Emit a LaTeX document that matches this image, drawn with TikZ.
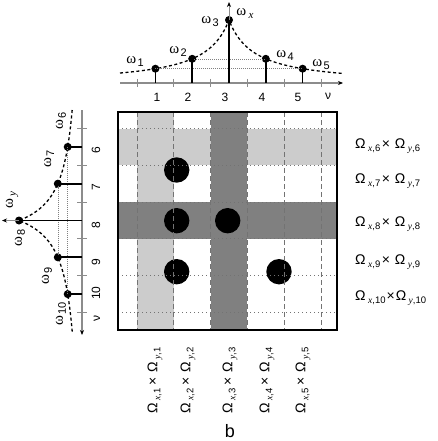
\documentclass[tikz,border=0pt]{standalone}
\usepackage{fontspec}
\setmainfont{Liberation Sans}
\newfontfamily\serifgr{Liberation Serif}
\usetikzlibrary{arrows.meta}
\definecolor{lightc}{gray}{0.80}
\definecolor{darkc}{gray}{0.50}
\definecolor{axisc}{gray}{0.55}
\definecolor{gridc}{gray}{0.45}
\newcommand\myom[1]{{\serifgr\fontsize{15}{15}\selectfont ω}\kern1.5pt\raisebox{-3pt}{\fontsize{11}{11}\selectfont #1}}
\newcommand\myomv[1]{{\serifgr\fontsize{15}{15}\selectfont ω}\kern2.5pt\raisebox{-3pt}{\serifgr\itshape\fontsize{11}{11}\selectfont #1}}
\newcommand\myOm[2]{Ω\kern2.5pt\raisebox{-3pt}{\fontsize{9.5}{9.5}\selectfont{\serifgr\itshape #1},#2}}
\begin{document}
\begin{tikzpicture}[x=1pt,y=-1pt,
  declare function={hh(\d)=63/(1+1.5*\d/36.8+0.1*(\d/36.8)^2);},
  axis/.style={draw=axisc, line width=1.2pt},
  tickm/.style={draw=axisc, line width=1pt},
  stem/.style={line width=1.7pt},
  pt/.style={circle, fill=black, inner sep=0pt, minimum size=8pt},
  bigdot/.style={circle, fill=black, inner sep=0pt, minimum size=25.4pt},
  guide/.style={draw=gray, line width=0.5pt, dash pattern=on 1pt off 1pt},
  curve/.style={line width=1.3pt, dash pattern=on 3pt off 2.5pt},
  vgrid/.style={draw=gridc, line width=0.9pt, dash pattern=on 5pt off 3pt},
  hgrid/.style={draw=gridc, line width=0.9pt, dash pattern=on 1pt off 3pt},
  num/.style={inner sep=0pt, font=\fontsize{12}{12}\selectfont},
  wl/.style={inner sep=0pt},
  rl/.style={inner sep=0pt, anchor=west, font=\fontsize{14}{14}\selectfont},
  bl/.style={inner sep=0pt, anchor=west, rotate=90, font=\fontsize{14}{14}\selectfont},
  tip/.style={-{Stealth[length=5pt,width=4pt,color=black]}}]
\useasboundingbox (0,0) rectangle (438,441);

% ---------- top axis ----------
\coordinate (tl) at (120,83);
\coordinate (tr) at (343,83);
\coordinate (wtop) at (229,2);
\draw[axis,tip] (tl) -- (tr);
\foreach \k in {0,...,5} {
  \coordinate (tt\k) at ({137+36.8*\k},79);
  \coordinate (tb\k) at ({137+36.8*\k},87);
  \draw[tickm] (tt\k) -- (tb\k);
}
\draw[curve] plot[domain=120:229,samples=60] (\x,{83-hh(abs(\x-229))})
  -- plot[domain=229:342,samples=60] (\x,{83-hh(abs(\x-229))});
\node[pt] (w1) at (155.4,68.7) {};
\node[pt] (w2) at (192.2,58.8) {};
\node[pt] (w3) at (229,20) {};
\node[pt] (w4) at (265.8,58.8) {};
\node[pt] (w5) at (302.6,68.7) {};
\foreach \i/\x in {1/155.4,2/192.2,3/229,4/265.8,5/302.6} \coordinate (b\i) at (\x,83);
\draw[guide] (w2.center) -- (w4.center);
\draw[guide] (w1.center) -- (w5.center);
\draw[axis,line width=1pt,tip] (b3) -- (wtop);
\foreach \i in {1,...,5} \draw[stem] (b\i) -- (w\i.center);
\node[num] (n1) at (157,97) {1};
\node[num] (n2) at (188,97) {2};
\node[num] (n3) at (225,97) {3};
\node[num] (n4) at (262,97) {4};
\node[num] (n5) at (298,97) {5};
\node[num] (nu1) at (328,96) {ν};
\node[wl] (lw1) at (135,61) {\myom{1}};
\node[wl] (lw2) at (178,51) {\myom{2}};
\node[wl] (lw3) at (210,22) {\myom{3}};
\node[wl] (lwx) at (245,13) {\myomv{x}};
\node[wl] (lw4) at (285,55) {\myom{4}};
\node[wl] (lw5) at (321,65) {\myom{5}};

% ---------- left axis ----------
\coordinate (lt) at (82,110);
\coordinate (lb) at (82,335);
\coordinate (wleft) at (2,220.5);
\draw[axis,tip] (lt) -- (lb);
\foreach \k in {0,...,5} {
  \coordinate (ll\k) at (77,{128.5+36.8*\k});
  \coordinate (lr\k) at (87,{128.5+36.8*\k});
  \draw[tickm] (ll\k) -- (lr\k);
}
\draw[curve] plot[domain=110:220.5,samples=60] ({82-hh(abs(\x-220.5))},\x)
  -- plot[domain=220.5:333,samples=60] ({82-hh(abs(\x-220.5))},\x);
\node[pt] (w6) at (67.7,146.9) {};
\node[pt] (w7) at (57.8,183.7) {};
\node[pt] (w8) at (19,220.5) {};
\node[pt] (w9) at (57.8,257.3) {};
\node[pt] (w10) at (67.7,294.1) {};
\foreach \i/\y in {6/146.9,7/183.7,8/220.5,9/257.3,10/294.1} \coordinate (c\i) at (82,\y);
\draw[guide] (w7.center) -- (w9.center);
\draw[guide] (w6.center) -- (w10.center);
\draw[axis,line width=1pt,tip] (c8) -- (wleft);
\foreach \i in {6,...,10} \draw[stem] (c\i) -- (w\i.center);
\node[num,rotate=90] (n6) at (96,150) {6};
\node[num,rotate=90] (n7) at (96,187) {7};
\node[num,rotate=90] (n8) at (96,225) {8};
\node[num,rotate=90] (n9) at (96,262) {9};
\node[num,rotate=90] (n10) at (96,293) {10};
\node[num,rotate=90] (nu2) at (97,318) {ν};
\node[wl,rotate=90] (lw6) at (61,121) {\myom{6}};
\node[wl,rotate=90] (lw7) at (49,159) {\myom{7}};
\node[wl,rotate=90] (lwy) at (12,200) {\myomv{y}};
\node[wl,rotate=90] (lw8) at (20,238) {\myom{8}};
\node[wl,rotate=90] (lw9) at (47,276) {\myom{9}};
\node[wl,rotate=90] (lw10) at (61,314) {\myom{10}};

% ---------- main square ----------
\fill[lightc] (118,128.5) rectangle (337,165.3);
\fill[lightc] (137,112) rectangle (173.8,330);
\fill[darkc] (210.6,112) rectangle (247.4,330);
\fill[darkc] (118,202.1) rectangle (337,238.9);
\node[bigdot] (d1) at (176.7,170) {};
\node[bigdot] (d2) at (176.7,220.7) {};
\node[bigdot] (d3) at (227.7,220.7) {};
\node[bigdot] (d4) at (176.7,271.7) {};
\node[bigdot] (d5) at (279,271.7) {};
\foreach \k in {0,...,5} {
  \draw[vgrid] ({137+36.8*\k},112) -- ({137+36.8*\k},330);
  \draw[hgrid] (118,{128.5+36.8*\k}) -- (337,{128.5+36.8*\k});
}
\draw[line width=1.2pt] (118,112) rectangle (337,330);

% ---------- labels ----------
\node[rl] (r6) at (355,146) {\myOm{x}{6}\kern1.5pt×\kern5pt\myOm{y}{6}};
\node[rl] (r7) at (355,181) {\myOm{x}{7}\kern1.5pt×\kern5pt\myOm{y}{7}};
\node[rl] (r8) at (355,224) {\myOm{x}{8}\kern1.5pt×\kern5pt\myOm{y}{8}};
\node[rl] (r9) at (355,262) {\myOm{x}{9}\kern1.5pt×\kern5pt\myOm{y}{9}};
\node[rl] (r10) at (355,298) {\myOm{x}{10}\kern1pt×\kern1pt\myOm{y}{10}};
\node[bl] (s1) at (155,414) {\myOm{x}{1}\kern3pt×\kern5pt\myOm{y}{1}};
\node[bl] (s2) at (188,414) {\myOm{x}{2}\kern3pt×\kern5pt\myOm{y}{2}};
\node[bl] (s3) at (230,414) {\myOm{x}{3}\kern3pt×\kern5pt\myOm{y}{3}};
\node[bl] (s4) at (267,414) {\myOm{x}{4}\kern3pt×\kern5pt\myOm{y}{4}};
\node[bl] (s5) at (303,414) {\myOm{x}{5}\kern3pt×\kern5pt\myOm{y}{5}};
\node[inner sep=0pt, font=\fontsize{18}{18}\selectfont] (cap) at (230,431) {b};
\end{tikzpicture}
\end{document}
